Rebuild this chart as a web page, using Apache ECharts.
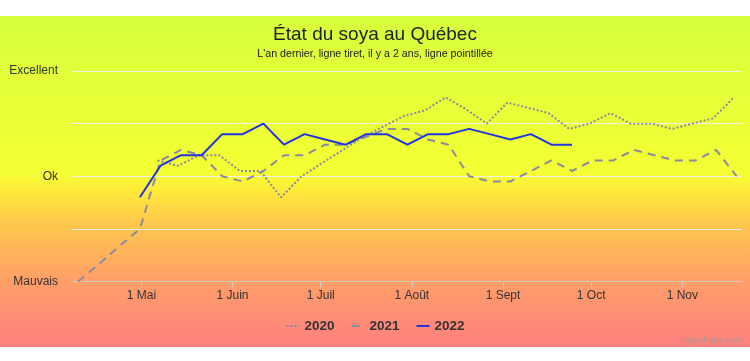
<!DOCTYPE html>
<html>
<head>
<meta charset="utf-8">
<script src="https://cdn.jsdelivr.net/npm/echarts@6/dist/echarts.min.js"></script>
<style>
html,body{margin:0;padding:0;background:#fff;}
#chart{width:750px;height:361px;}
</style>
</head>
<body>
<div id="chart"></div>
<script>
// ---- data ----
const titleText = 'État du soya au Québec';
const subtitleText = "L'an dernier, ligne tiret, il y a 2 ans, ligne pointillée";
const seriesNames = ['2020', '2021', '2022'];
const yLabels = ['Mauvais', '', 'Ok', '', 'Excellent'];
const monthLabels = ['Janv', 'Févr', 'Mars', 'Avr', 'Mai', 'Juin', 'Juil', 'Août', 'Sept', 'Oct', 'Nov', 'Déc'];

const dates2020 = ['2022-05-06T12:00','2022-05-13T12:00','2022-05-20T12:00','2022-05-27T12:00',
  '2022-06-03T12:00','2022-06-10T12:00','2022-06-17T12:00','2022-06-24T12:00',
  '2022-07-01T12:00','2022-07-08T12:00','2022-07-15T12:00','2022-07-22T12:00','2022-07-29T12:00',
  '2022-08-05T12:00','2022-08-12T12:00','2022-08-19T12:00','2022-08-26T12:00',
  '2022-09-02T12:00','2022-09-09T12:00','2022-09-16T12:00','2022-09-23T12:00','2022-09-30T12:00',
  '2022-10-07T12:00','2022-10-14T12:00','2022-10-21T12:00','2022-10-28T12:00',
  '2022-11-04T12:00','2022-11-11T12:00','2022-11-18T12:00'];
const values2020 = [2.3, 2.2, 2.4, 2.4, 2.1, 2.1, 1.6, 2.0, 2.25, 2.5, 2.75, 2.95, 3.15,
  3.25, 3.5, 3.27, 3.0, 3.4, 3.3, 3.2, 2.9, 3.0, 3.2, 3.0, 3.0, 2.9, 3.0, 3.1, 3.5];

const dates2021 = ['2022-04-09T12:00','2022-04-16T12:00','2022-04-23T12:00','2022-04-30T12:00',
  '2022-05-07T12:00','2022-05-14T12:00','2022-05-21T12:00','2022-05-28T12:00',
  '2022-06-04T12:00','2022-06-11T12:00','2022-06-18T12:00','2022-06-25T12:00',
  '2022-07-02T12:00','2022-07-09T12:00','2022-07-16T12:00','2022-07-23T12:00','2022-07-30T12:00',
  '2022-08-06T12:00','2022-08-13T12:00','2022-08-20T12:00','2022-08-27T12:00',
  '2022-09-03T12:00','2022-09-10T12:00','2022-09-17T12:00','2022-09-24T12:00',
  '2022-10-01T12:00','2022-10-08T12:00','2022-10-15T12:00','2022-10-22T12:00','2022-10-29T12:00',
  '2022-11-05T12:00','2022-11-12T12:00','2022-11-19T12:00'];
const values2021 = [0, 0.33, 0.67, 1.0, 2.3, 2.5, 2.4, 2.0, 1.9, 2.1, 2.4, 2.4, 2.6, 2.6, 2.75, 2.9, 2.9,
  2.7, 2.6, 2.0, 1.9, 1.9, 2.1, 2.3, 2.1, 2.3, 2.3, 2.5, 2.4, 2.3, 2.3, 2.5, 2.0];

const dates2022 = ['2022-04-30T12:00','2022-05-07T12:00','2022-05-14T12:00','2022-05-21T12:00','2022-05-28T12:00',
  '2022-06-04T12:00','2022-06-11T12:00','2022-06-18T12:00','2022-06-25T12:00',
  '2022-07-02T12:00','2022-07-09T12:00','2022-07-16T12:00','2022-07-23T12:00','2022-07-30T12:00',
  '2022-08-06T12:00','2022-08-13T12:00','2022-08-20T12:00','2022-08-27T12:00',
  '2022-09-03T12:00','2022-09-10T12:00','2022-09-17T12:00','2022-09-24T12:00'];
const values2022 = [1.6, 2.2, 2.4, 2.4, 2.8, 2.8, 3.0, 2.6, 2.8, 2.7, 2.6, 2.8, 2.8, 2.6,
  2.8, 2.8, 2.9, 2.8, 2.7, 2.8, 2.6, 2.6];

const axisStart = '2022-04-07T09:36';
const axisEnd = '2022-11-21T07:12';

// ---- chart ----
const pair = (ds, vs) => ds.map((d, i) => [d, vs[i]]);
const chart = echarts.init(document.getElementById('chart'), null, {renderer: 'canvas'});
const font = '"Liberation Sans", Arial, sans-serif';

chart.setOption({
  animation: false,
  backgroundColor: '#ffffff',
  graphic: [{
    type: 'rect', z: -10, silent: true,
    shape: {x: 0, y: 16, width: 750, height: 331},
    style: {
      fill: new echarts.graphic.LinearGradient(0, 0, 0, 1, [
        {offset: 0, color: '#d6ff3c'},
        {offset: 0.47, color: '#f4ff34'},
        {offset: 0.53, color: '#ffea3a'},
        {offset: 0.62, color: '#ffc94c'},
        {offset: 0.8, color: '#ff9f68'},
        {offset: 1, color: '#ff8080'}
      ])
    }
  }, {
    type: 'text', right: 7, top: 336, silent: true,
    style: {text: 'Highcharts.com', fill: '#a89a90', font: '9px ' + font}
  }],
  title: [{
    text: titleText,
    left: 'center',
    top: 20,
    textStyle: {fontFamily: font, fontSize: 19, fontWeight: 'normal', color: '#222'}
  }, {
    text: subtitleText,
    left: 'center',
    top: 44,
    textStyle: {fontFamily: font, fontSize: 10.7, fontWeight: 'normal', color: '#222'}
  }],
  legend: {
    data: seriesNames,
    top: 314,
    left: 'center',
    itemWidth: 13,
    itemHeight: 10,
    itemGap: 16,
    itemStyle: {opacity: 0},
    textStyle: {fontFamily: font, fontSize: 13.5, fontWeight: 'bold', color: '#333'}
  },
  grid: {left: 72, right: 8, top: 71, bottom: 79.5, containLabel: false},
  xAxis: {
    type: 'time',
    min: new Date(axisStart).getTime(),
    max: new Date(axisEnd).getTime(),
    splitNumber: 7,
    maxInterval: 31 * 86400000,
    minInterval: 28 * 86400000,
    axisLine: {lineStyle: {color: '#d9c8bf', width: 1}},
    axisTick: {show: true, length: 6, lineStyle: {color: '#d9c8bf'}},
    splitLine: {show: false},
    axisLabel: {
      fontFamily: font, fontSize: 12, color: '#333', margin: 8,
      formatter: function (val) {
        const d = new Date(val);
        return d.getDate() === 1 ? '1 ' + monthLabels[d.getMonth()] : '';
      }
    }
  },
  yAxis: {
    type: 'value', min: 0, max: 4, interval: 1,
    axisLine: {show: false}, axisTick: {show: false},
    splitLine: {lineStyle: {color: '#f0f0f0', width: 1}},
    axisLabel: {
      fontFamily: font, fontSize: 12, color: '#333', margin: 14,
      formatter: function (v) { return yLabels[Math.round(v)] || ''; }
    }
  },
  series: [{
    name: seriesNames[0], type: 'line', symbol: 'none',
    data: pair(dates2020, values2020),
    lineStyle: {color: '#8a8a9e', width: 2, type: [2, 2]},
    itemStyle: {color: '#8a8a9e'}
  }, {
    name: seriesNames[1], type: 'line', symbol: 'none',
    data: pair(dates2021, values2021),
    lineStyle: {color: '#8a8a9e', width: 2, type: [8, 6]},
    itemStyle: {color: '#8a8a9e'}
  }, {
    name: seriesNames[2], type: 'line', symbol: 'none',
    data: pair(dates2022, values2022),
    lineStyle: {color: '#2233e0', width: 2},
    itemStyle: {color: '#2233e0'}
  }]
});
</script>
</body>
</html>
